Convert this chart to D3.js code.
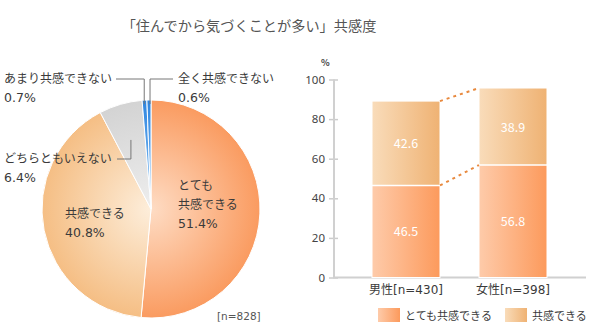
<!DOCTYPE html>
<html><head><meta charset="utf-8">
<script src="https://cdn.jsdelivr.net/npm/d3@7"></script>
<style>
body{margin:0;background:#fff;}
svg{display:block;font-family:"Noto Sans CJK JP","Noto Sans",sans-serif;}
</style></head>
<body><svg id="c" width="600" height="328"></svg>
<script>
const title = "「住んでから気づくことが多い」共感度";
const pieLabels = ["とても共感できる","共感できる","どちらともいえない","あまり共感できない","全く共感できない"];
const pieValues = [51.4, 40.8, 6.4, 0.7, 0.6];
const pieN = "[n=828]";
const barCategories = ["男性[n=430]","女性[n=398]"];
const seriesNames = ["とても共感できる","共感できる"];
const seriesStrong = [46.5, 56.8];
const seriesAgree = [42.6, 38.9];
const yTicks = [0,20,40,60,80,100];

const svg = d3.select("#c");
const defs = svg.append("defs");
const txt = "#3a3a3a";
const numFont = "'DejaVu Sans','Noto Sans CJK JP',sans-serif";

svg.append("text").attr("x",249).attr("y",31).attr("text-anchor","middle")
  .attr("font-size",14.2).attr("fill","#555").text(title);

// ---------- Pie ----------
const cx = 151, cy = 209, R = 109;
function radial(id, c0, c1){
  const g = defs.append("radialGradient").attr("id",id).attr("gradientUnits","userSpaceOnUse")
    .attr("cx",0).attr("cy",0).attr("r",R);
  g.append("stop").attr("offset","0%").attr("stop-color",c0);
  g.append("stop").attr("offset","100%").attr("stop-color",c1);
}
radial("p0","#fedcc4","#fa9b60");
radial("p1","#fdeedb","#f5be84");
radial("p2","#eeeeee","#d3d3d3");
radial("p3","#8cc4f5","#2f86e0");
radial("p4","#8cc4f5","#2f86e0");
const pie = d3.pie().sort(null).value(d=>d)(pieValues);
const arc = d3.arc().innerRadius(0).outerRadius(R);
const pg = svg.append("g").attr("transform",`translate(${cx},${cy})`);
pg.selectAll("path").data(pie).join("path")
  .attr("d",arc).attr("fill",(d,i)=>`url(#p${i})`)
  .attr("stroke","#fff").attr("stroke-width",1);

const ang = d=> (d.startAngle+d.endAngle)/2;
const pt = (a,r)=>[cx+Math.sin(a)*r, cy-Math.cos(a)*r];

// labels
const lab = svg.append("g").attr("font-size",12).attr("fill",txt);
function label(x,y,lines){
  const t = lab.append("text").attr("x",x).attr("y",y);
  lines.forEach((l,i)=>{
    const s = t.append("tspan").attr("x",x).attr("dy",i?19:0).text(l);
    if(i===lines.length-1) s.attr("font-family",numFont).attr("font-size",12.5);
  });
}
label(4,83,["あまり共感できない", pieValues[3].toFixed(1)+"%"]);
label(178,83,["全く共感できない", pieValues[4].toFixed(1)+"%"]);
label(4,163,["どちらともいえない", pieValues[2].toFixed(1)+"%"]);
label(65,218,["共感できる", pieValues[1].toFixed(1)+"%"]);
label(178,190,["とても","共感できる",pieValues[0].toFixed(1)+"%"]);
lab.append("text").attr("x",217).attr("y",320).attr("font-size",10.5).attr("font-family",numFont).attr("fill","#555").text(pieN);

// leader lines
const ll = svg.append("g").attr("fill","none").attr("stroke","#777").attr("stroke-width",1);
const a3 = pt(ang(pie[3]),R-4), a4 = pt(ang(pie[4]),R-4), a2 = pt(ang(pie[2]),R*0.66);
ll.append("path").attr("d",`M116,79H${a3[0]-0.5}V${a3[1]}`);
ll.append("path").attr("d",`M173,79H${a4[0]+1}V${a4[1]}`);
ll.append("path").attr("d",`M117,159H${a2[0]}V${a2[1]}`);

// ---------- Bars ----------
const y = d3.scaleLinear().domain([0,100]).range([277.5,79.5]);
const x = d3.scaleBand().domain(barCategories).range([350.6,568.4]).paddingInner(0.3645).paddingOuter(0.2);
function linear(id,c0,c1){
  const g = defs.append("linearGradient").attr("id",id).attr("x1","0%").attr("x2","100%").attr("y1","0%").attr("y2","0%");
  g.append("stop").attr("offset","0%").attr("stop-color",c0);
  g.append("stop").attr("offset","100%").attr("stop-color",c1);
}
linear("b0","#fecbaa","#fc9a5c");
linear("b1","#f9dcba","#efb273");

const ax = svg.append("g").attr("transform","translate(334,0)");
ax.call(d3.axisLeft(y).tickValues(yTicks).tickSize(0).tickPadding(9));
ax.select(".domain").remove();
ax.selectAll("text").attr("font-size",11.5).attr("fill","#444").attr("font-family","'Noto Sans','DejaVu Sans',sans-serif");
ax.selectAll(".tick").append("line").attr("x1",-5).attr("x2",4).attr("stroke","#ccc").attr("stroke-width",1.5);
ax.append("line").attr("y1",y(100)).attr("y2",y(0)).attr("stroke","#d0d0d0").attr("stroke-width",2);
svg.append("line").attr("x1",333).attr("x2",586).attr("y1",y(0)).attr("y2",y(0)).attr("stroke","#d0d0d0").attr("stroke-width",2);
svg.append("text").attr("x",321).attr("y",66).attr("font-size",9).attr("fill","#444").attr("font-weight","bold").text("%");

const bars = svg.append("g");
barCategories.forEach((c,i)=>{
  const x0 = x(c), w = x.bandwidth();
  const v0 = seriesStrong[i], v1 = seriesAgree[i];
  bars.append("rect").attr("x",x0).attr("width",w).attr("y",y(v0)).attr("height",y(0)-y(v0)).attr("fill","url(#b0)");
  bars.append("rect").attr("x",x0).attr("width",w).attr("y",y(v0+v1)).attr("height",y(v0)-y(v0+v1)).attr("fill","url(#b1)");
  bars.append("line").attr("x1",x0).attr("x2",x0+w).attr("y1",y(v0)).attr("y2",y(v0)).attr("stroke","#fff").attr("stroke-width",1.5);
  bars.append("rect").attr("x",x0).attr("width",w).attr("y",y(v0+v1)).attr("height",y(0)-y(v0+v1)).attr("fill","none").attr("stroke","#fff").attr("stroke-width",1);
  bars.append("text").attr("x",x0+w/2).attr("y",(y(0)+y(v0))/2+5).attr("text-anchor","middle").attr("fill","#fff").attr("font-size",12.5).text(v0.toFixed(1));
  bars.append("text").attr("x",x0+w/2).attr("y",(y(v0)+y(v0+v1))/2+5).attr("text-anchor","middle").attr("fill","#fff").attr("font-size",12.5).text(v1.toFixed(1));
  svg.append("text").attr("x",x0+w/2).attr("y",294).attr("text-anchor","middle").attr("font-size",12).attr("font-family",numFont).attr("fill",txt).text(c);
});
// dashed connectors
const c0 = barCategories[0], c1 = barCategories[1];
[[seriesStrong[0],seriesStrong[1]],[seriesStrong[0]+seriesAgree[0],seriesStrong[1]+seriesAgree[1]]].forEach(([a,b])=>{
  svg.append("line").attr("x1",x(c0)+x.bandwidth()).attr("y1",y(a)).attr("x2",x(c1)).attr("y2",y(b))
    .attr("stroke","#e8893e").attr("stroke-width",2).attr("stroke-dasharray","3,4");
});

// legend
const lg = svg.append("g");
[[378,"b0"],[505,"b1"]].forEach(([lx,id],i)=>{
  lg.append("rect").attr("x",lx).attr("y",308).attr("width",22).attr("height",14).attr("fill",`url(#${id})`);
  lg.append("text").attr("x",lx+27).attr("y",319.5).attr("font-size",11).attr("fill",txt).text(seriesNames[i]);
});
</script></body></html>
